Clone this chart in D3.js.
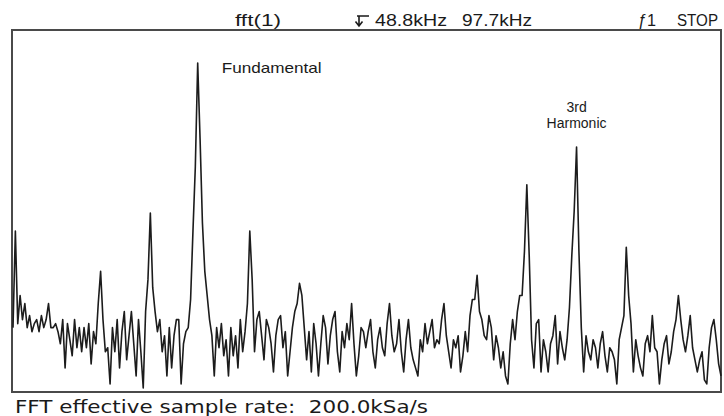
<!DOCTYPE html>
<html>
<head>
<meta charset="utf-8">
<script src="https://cdn.jsdelivr.net/npm/d3@7"></script>
<style>
  html, body { margin: 0; padding: 0; background: #fff; }
  svg { display: block; }
  text { font-family: "Liberation Sans", Arial, Helvetica, sans-serif; fill: #1a1a1a; }
</style>
</head>
<body>
<svg id="chart" width="724" height="416"></svg>
<script>
// FFT magnitude (dB) per frequency bin, 0 .. 97.7 kHz span
const spanKHz = 97.7;
const centerKHz = 48.8;
const spectrumDb = [
  -74,-50,-73,-66,-72,-68,-74,-71,-75,-73,
  -72,-75,-71,-74,-72,-68,-74,-74,-73,-75,
  -78,-72,-84,-73,-77,-81,-72,-79,-74,-80,
  -74,-79,-73,-83,-75,-78,-68,-60,-72,-80,
  -79,-88,-74,-80,-72,-84,-75,-70,-82,-76,
  -70,-78,-86,-72,-80,-89,-70,-62,-45.5,-64,
  -70,-75,-72,-80,-76,-86,-74,-84,-76,-72,
  -72,-88,-78,-75,-74,-67,-50,-34,-8.2,-27,
  -48,-60,-66,-72,-76,-86,-74,-79,-73,-81,
  -77,-86,-74,-81,-76,-84,-72,-80,-75,-68,
  -50,-62,-80,-72,-70,-76,-82,-72,-74,-78,
  -85,-76,-72,-71,-79,-75,-86,-80,-74,-70,
  -68,-63,-66,-74,-82,-75,-85,-73,-78,-86,
  -78,-71,-74,-83,-76,-72,-70,-80,-85,-75,
  -79,-73,-77,-68,-78,-86,-81,-74,-75,-79,
  -75,-72,-80,-84,-77,-74,-79,-81,-73,-68,
  -76,-80,-78,-72,-80,-85,-77,-72,-79,-82,
  -84,-86,-77,-80,-73,-78,-75,-72,-79,-77,
  -78,-72,-68,-76,-80,-84,-77,-79,-76,-85,
  -81,-75,-80,-71,-67,-67,-61,-70,-72,-76,
  -77,-71,-74,-82,-76,-79,-84,-80,-86,-88,
  -78,-72,-77,-70,-66,-66,-55,-38.5,-56,-77,
  -84,-73,-72,-85,-77,-80,-85,-78,-76,-71,
  -83,-75,-79,-82,-77,-69,-56,-45,-29.1,-55,
  -74,-85,-76,-80,-82,-77,-79,-84,-78,-75,
  -81,-85,-79,-80,-82,-88,-77,-74,-71,-54,
  -66,-73,-85,-77,-81,-84,-86,-78,-76,-80,
  -71,-79,-80,-88,-82,-78,-76,-83,-80,-75,
  -72,-66,-72,-77,-80,-76,-71,-79,-82,-85,
  -82,-80,-87,-88,-79,-74,-72,-77,-83,-86
];
const annotationPeaks = [
  { lines: ["Fundamental"], bin: 78 },
  { lines: ["3rd", "Harmonic"], bin: 238 }
];
const headerSource = "fft(1)";
const headerCenter = centerKHz.toFixed(1) + "kHz";
const headerSpan = spanKHz.toFixed(1) + "kHz";
const headerTrig = "\u01921";
const headerState = "STOP";
const footerText = "FFT effective sample rate:  200.0kSa/s";

const svg = d3.select("#chart");
const frame = { left: 12, top: 30, right: 721, bottom: 392 };

const x = d3.scaleLinear()
  .domain([0, spectrumDb.length - 1])
  .range([frame.left + 1, frame.right]);
const y = d3.scaleLinear()
  .domain([-90, 0])
  .range([frame.bottom, frame.top]);

// frame
svg.append("rect")
  .attr("x", frame.left).attr("y", frame.top)
  .attr("width", frame.right - frame.left)
  .attr("height", frame.bottom - frame.top)
  .attr("fill", "#fff")
  .attr("stroke", "#4a4a4a")
  .attr("stroke-width", 2);

// trace
const line = d3.line()
  .x((d, i) => x(i))
  .y(d => y(d));
svg.append("path")
  .datum(spectrumDb)
  .attr("d", line)
  .attr("fill", "none")
  .attr("stroke", "#1c1c1c")
  .attr("stroke-width", 1.6)
  .attr("stroke-linejoin", "round");

// annotations
const fundamental = annotationPeaks[0];
svg.append("text")
  .attr("x", x(fundamental.bin) + 24)
  .attr("y", y(spectrumDb[fundamental.bin]) + 10)
  .attr("font-size", 15)
  .attr("textLength", 100)
  .attr("lengthAdjust", "spacingAndGlyphs")
  .text(fundamental.lines[0]);

const third = annotationPeaks[1];
third.lines.forEach((t, k) => {
  svg.append("text")
    .attr("x", x(third.bin))
    .attr("y", y(spectrumDb[third.bin]) - 35 + k * 16)
    .attr("text-anchor", "middle")
    .attr("font-size", 14)
    .text(t);
});

// header
const hdr = svg.append("g").attr("font-size", 16);
hdr.append("text").attr("x", 235).attr("y", 26)
  .attr("textLength", 46).attr("lengthAdjust", "spacingAndGlyphs").text(headerSource);
// marker arrow glyph
hdr.append("path")
  .attr("d", "M357,16 H369 M359,16 V25 M355.5,21.5 L359,26 L362.5,21.5")
  .attr("fill", "none").attr("stroke", "#1a1a1a").attr("stroke-width", 1.6);
hdr.append("text").attr("x", 375).attr("y", 26)
  .attr("textLength", 72).attr("lengthAdjust", "spacingAndGlyphs").text(headerCenter);
hdr.append("text").attr("x", 462).attr("y", 26)
  .attr("textLength", 70).attr("lengthAdjust", "spacingAndGlyphs").text(headerSpan);
hdr.append("text").attr("x", 638).attr("y", 26)
  .attr("textLength", 18).attr("lengthAdjust", "spacingAndGlyphs").text(headerTrig);
hdr.append("text").attr("x", 677).attr("y", 26)
  .attr("textLength", 41).attr("lengthAdjust", "spacingAndGlyphs").text(headerState);

// footer
svg.append("text")
  .attr("x", 15).attr("y", 413)
  .attr("font-size", 17)
  .style("font-family", "'DejaVu Sans', 'Liberation Sans', sans-serif")
  .attr("xml:space", "preserve")
  .style("white-space", "pre")
  .attr("textLength", 413)
  .attr("lengthAdjust", "spacingAndGlyphs")
  .text(footerText);
</script>
</body>
</html>
